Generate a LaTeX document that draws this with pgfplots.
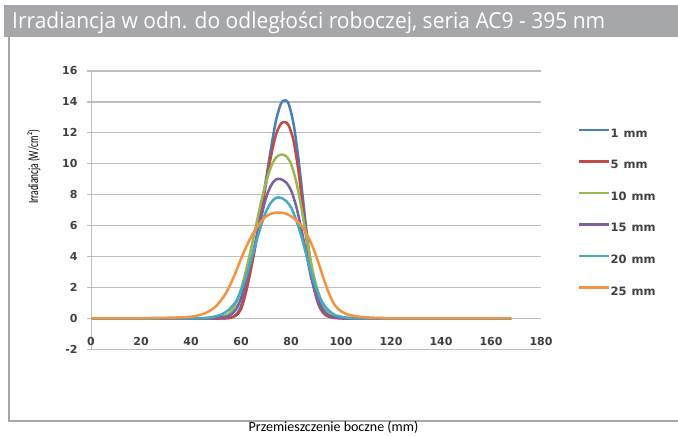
\documentclass[border=0pt]{standalone}
\usepackage{pgfplots}
\pgfplotsset{compat=1.18}
\usepackage{fontspec}
\setmainfont{Carlito}
\newfontfamily\titlefont{Open Sans}
\newfontfamily\tickfont{DejaVu Sans}
\definecolor{framegray}{HTML}{A6A7AA}
\definecolor{gridgray}{HTML}{BFBFBF}
\definecolor{c1}{HTML}{4A7EBB}
\definecolor{c2}{HTML}{BE4B48}
\definecolor{c3}{HTML}{98B954}
\definecolor{c4}{HTML}{7D60A0}
\definecolor{c5}{HTML}{46AAC5}
\definecolor{c6}{HTML}{F69240}
\begin{document}
\begin{tikzpicture}[x=1bp,y=1bp]
\useasboundingbox (0,0) rectangle (678,436);
\fill[white] (0,0) rectangle (678,436);
\fill[framegray] (4,399) rectangle (678,431);
\node[anchor=base west, inner sep=0pt, text=white] at (12,407) {\resizebox{593bp}{\height}{\titlefont\fontsize{22bp}{22bp}\selectfont Irradiancja w odn. do odległości roboczej, seria AC9 - 395 nm}};
\draw[framegray, line width=2bp] (8.5,399) -- (8.5,15) -- (678,15);
\node[anchor=base, inner sep=0pt] at (333.5,4) {\fontsize{14bp}{14bp}\selectfont Przemieszczenie boczne (mm)};
\node[rotate=90, inner sep=0pt] at (34,269) {\resizebox{74bp}{\height}{\fontsize{14bp}{14bp}\selectfont Irradiancja (W/cm²)}};
\begin{axis}[
  at={(91bp,86.5bp)}, anchor=south west, scale only axis,
  width=450bp, height=278.5bp,
  xmin=0, xmax=180, ymin=-2, ymax=16,
  axis x line=middle, axis y line=left,
  axis line style={-, draw=gridgray, line width=1bp},
  hide obscured x ticks=false, hide obscured y ticks=false,
  xtick={0,20,...,180}, ytick={-2,0,...,16},
  ymajorgrids, grid style={gridgray, line width=1.2bp},
  tick align=outside, major tick length=4bp,
  xtick style={draw=none}, ytick style={draw=gridgray, line width=1.2bp},
  tick label style={font=\tickfont\bfseries\fontsize{11bp}{11bp}\selectfont, text=black!75},
  /pgf/number format/assume math mode=true,
  xticklabel style={yshift=-11bp},
  yticklabel style={xshift=-6bp},
  every axis plot/.append style={line width=2.5bp, smooth, no markers},
  legend cell align=left,
  legend image code/.code={\draw[#1, line width=2.5bp] (0bp,3.5bp) -- (30bp,3.5bp);},
  legend style={at={(axis description cs:1.0822,0.794)}, anchor=north west, draw=none, fill=none,
    inner sep=0pt, row sep=22.8bp, font=\tickfont\bfseries\fontsize{11.5bp}{11.5bp}\selectfont,
    text=black!75,
    nodes={inner sep=0pt, text height=8bp, text depth=0pt}},
]
\addplot[c1] coordinates {(0,0) (20,0) (40,0) (50,0) (54,0.02) (56,0.06) (58,0.25) (60,0.8) (62,2.0) (64,3.4) (66,5.0) (68,7.0) (70,9.0) (72,11.0) (74,12.8) (76,13.9) (77.5,14.1) (79,13.9) (81,12.6) (83,10.3) (85,7.4) (87,4.6) (89,2.6) (91,1.3) (93,0.6) (95,0.3) (98,0.1) (102,0.02) (110,0) (130,0) (150,0) (168,0)};
\addlegendentry{1\hspace{5bp}mm}
\addplot[c2] coordinates {(0,0) (20,0) (40,0) (50,0) (54,0.02) (56,0.06) (58,0.2) (60,0.6) (62,1.7) (64,3.2) (66,4.9) (68,6.8) (70,8.7) (72,10.5) (74,11.9) (76,12.6) (77.5,12.7) (79,12.5) (81,11.5) (83,9.5) (85,6.8) (87,4.1) (89,2.1) (91,0.9) (93,0.35) (95,0.12) (98,0.03) (102,0) (120,0) (150,0) (168,0)};
\addlegendentry{5\hspace{5bp}mm}
\addplot[c3] coordinates {(0,0) (20,0) (40,0) (46,0.02) (50,0.06) (54,0.2) (56,0.45) (58,1.0) (60,1.9) (62,3.1) (64,4.5) (66,6.0) (68,7.5) (70,8.8) (72,9.8) (74,10.4) (76,10.6) (78,10.5) (80,10.0) (82,8.9) (84,7.3) (86,5.4) (88,3.6) (90,2.2) (92,1.2) (94,0.6) (96,0.3) (100,0.08) (106,0.01) (120,0) (150,0) (168,0)};
\addlegendentry{10\hspace{5bp}mm}
\addplot[c4] coordinates {(0,0) (20,0) (40,0) (46,0.02) (50,0.05) (54,0.12) (56,0.25) (58,0.6) (60,1.3) (62,2.4) (64,3.7) (66,5.1) (68,6.5) (70,7.8) (72,8.6) (74,9.0) (76,9.0) (78,8.8) (80,8.3) (82,7.3) (84,5.9) (86,4.3) (88,2.7) (90,1.5) (92,0.7) (94,0.3) (97,0.1) (102,0.02) (120,0) (150,0) (168,0)};
\addlegendentry{15\hspace{5bp}mm}
\addplot[c5] coordinates {(0,0) (20,0) (36,0.01) (44,0.03) (48,0.08) (52,0.25) (55,0.55) (58,1.1) (60,1.8) (62,2.7) (64,3.8) (66,4.9) (68,6.0) (70,6.9) (72,7.5) (74,7.8) (76,7.8) (78,7.6) (80,7.2) (82,6.4) (84,5.4) (86,4.2) (88,3.0) (90,2.0) (92,1.2) (94,0.7) (96,0.4) (98,0.2) (102,0.07) (108,0.02) (120,0) (150,0) (168,0)};
\addlegendentry{20\hspace{5bp}mm}
\addplot[c6] coordinates {(0,0.02) (20,0.03) (30,0.05) (36,0.08) (40,0.12) (44,0.25) (47,0.45) (50,0.8) (53,1.4) (55,1.95) (57,2.65) (59,3.45) (61,4.25) (63,4.95) (65,5.55) (67,6.05) (69,6.45) (71,6.7) (73,6.82) (75,6.85) (77,6.82) (79,6.7) (81,6.5) (83,6.2) (85,5.8) (87,5.25) (89,4.5) (91,3.6) (93,2.6) (95,1.7) (97,1.0) (99,0.6) (102,0.3) (106,0.15) (112,0.06) (120,0.03) (140,0.02) (168,0.02)};
\addlegendentry{25\hspace{5bp}mm}
\end{axis}
\end{tikzpicture}
\end{document}
